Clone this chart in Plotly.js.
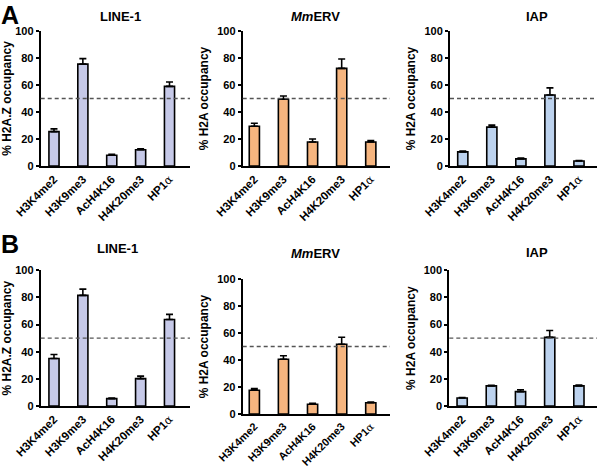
<!DOCTYPE html>
<html>
<head>
<meta charset="utf-8">
<script src="https://cdn.plot.ly/plotly-3.0.1.min.js"></script>
<style>html,body{margin:0;padding:0;background:#fff;}#chart{width:600px;height:468px;}</style>
</head>
<body>
<div id="chart"></div>
<script>
// ---- data ----
const categories = ['H3K4me2', 'H3K9me3', 'AcH4K16', 'H4K20me3', 'HP1α'];
const elements = ['LINE-1', 'MmERV', 'IAP'];
const yTitles = ['% H2A.Z occupancy', '% H2A occupancy', '% H2A occupancy'];
const panelLetters = ['A', 'B'];
const yTicks = [0, 20, 40, 60, 80, 100];
const threshold = 50;

const A_LINE1 = [25.5, 75.5, 8.0, 12.0, 59.0];
const A_LINE1_err = [2.0, 4.0, 0.7, 0.8, 3.2];
const A_MmERV = [29.5, 49.5, 17.8, 72.3, 17.8];
const A_MmERV_err = [2.2, 2.4, 2.2, 7.0, 1.0];
const A_IAP = [10.5, 28.8, 5.3, 52.6, 3.7];
const A_IAP_err = [0.6, 1.5, 0.5, 5.3, 0.4];

const B_LINE1 = [35.0, 81.5, 5.4, 20.2, 63.7];
const B_LINE1_err = [3.0, 4.6, 0.5, 1.8, 3.8];
const B_MmERV = [17.6, 40.6, 7.2, 51.7, 8.3];
const B_MmERV_err = [1.2, 2.6, 0.8, 5.1, 0.5];
const B_IAP = [5.9, 14.8, 10.6, 50.6, 14.8];
const B_IAP_err = [0.3, 0.5, 1.4, 5.0, 0.6];

// ---- layout geometry (pixels) ----
const W = 600, H = 468;
const colors = ['#c6c9e8', '#f6b57f', '#bcd2ee'];
const FONT = 'Liberation Sans, Arial, Helvetica, sans-serif';
const panels = [
  {vals: A_LINE1, err: A_LINE1_err, el: 0, x0: 40.7, x1: 190, y0: 31, y1: 166, r: [-0.46, 4.71], ty: 17, tx: 120, fs: 11.5},
  {vals: A_MmERV, err: A_MmERV_err, el: 1, x0: 242.7, x1: 390, y0: 31, y1: 166, r: [-0.40, 4.66], ty: 17, tx: 315, fs: 11.5},
  {vals: A_IAP, err: A_IAP_err, el: 2, x0: 450, x1: 597, y0: 31, y1: 166, r: [-0.44, 4.62], ty: 17, tx: 537, fs: 11.5},
  {vals: B_LINE1, err: B_LINE1_err, el: 0, x0: 40.7, x1: 190, y0: 270.3, y1: 406, r: [-0.46, 4.71], ty: 248, tx: 117, fs: 11.5},
  {vals: B_MmERV, err: B_MmERV_err, el: 1, x0: 242.7, x1: 390, y0: 279, y1: 414, r: [-0.40, 4.66], ty: 254, tx: 315, fs: 10.8},
  {vals: B_IAP, err: B_IAP_err, el: 2, x0: 449.3, x1: 597, y0: 270.3, y1: 406, r: [-0.44, 4.62], ty: 253, tx: 537, fs: 11.5}
];

function tickLabel(c) {
  const parts = c.split('α');
  if (parts.length === 1) return '<b>' + c + '</b>';
  return '<b>' + parts[0] + '</b><span style="font-family:DejaVu Serif,serif">α</span>' + (parts[1] ? '<b>' + parts[1] + '</b>' : '');
}
function titleText(t) {
  return t.replace(/^Mm/, '<i>Mm</i>');
}

const data = [];
const layout = {
  width: W, height: H,
  margin: {l: 0, r: 0, t: 0, b: 0},
  paper_bgcolor: '#fff', plot_bgcolor: 'rgba(0,0,0,0)',
  showlegend: false,
  font: {family: FONT, color: '#000'},
  shapes: [], annotations: []
};

panels.forEach((p, i) => {
  const n = i === 0 ? '' : String(i + 1);
  data.push({
    type: 'bar',
    x: categories, y: p.vals,
    xaxis: 'x' + n, yaxis: 'y' + n,
    width: 0.35,
    marker: {color: colors[p.el], line: {color: '#000', width: 1.6}},
    error_y: {type: 'data', symmetric: false, array: p.err, arrayminus: p.vals.map(() => 0),
              color: '#000', thickness: 1.6, width: 3.5},
    hoverinfo: 'x+y'
  });
  layout['xaxis' + n] = {
    domain: [p.x0 / W, p.x1 / W],
    anchor: 'y' + n,
    type: 'category',
    range: p.r,
    tickvals: categories,
    ticktext: categories.map(tickLabel),
    tickangle: -45,
    ticks: '',
    showgrid: false, zeroline: false,
    showline: true, linecolor: '#000', linewidth: 2,
    tickfont: {family: FONT, size: p.fs, color: '#000'},
    fixedrange: true
  };
  layout['yaxis' + n] = {
    domain: [1 - p.y1 / H, 1 - p.y0 / H],
    anchor: 'x' + n,
    range: [0, 100],
    tickvals: yTicks,
    ticktext: yTicks.map(v => '<b>' + v + '</b>'),
    ticks: 'outside', ticklen: 3, tickwidth: 2, tickcolor: '#000',
    showgrid: false, zeroline: false,
    showline: true, linecolor: '#000', linewidth: 2,
    tickfont: {family: FONT, size: 11, color: '#000'},
    title: {text: '<b>' + yTitles[p.el] + '</b>', font: {family: FONT, size: 12, color: '#000'}, standoff: 6},
    fixedrange: true
  };
  layout.shapes.push({
    type: 'line', xref: 'x' + n + ' domain', yref: 'y' + n,
    x0: 0, x1: 1, y0: threshold, y1: threshold,
    line: {color: '#555', width: 1.3, dash: '4px,3px'}
  });
  layout.annotations.push({
    xref: 'paper', yref: 'paper',
    x: p.tx / W, y: 1 - p.ty / H,
    xanchor: 'center', yanchor: 'middle', showarrow: false,
    text: '<b>' + titleText(elements[p.el]) + '</b>',
    font: {family: FONT, size: 13, color: '#000'}
  });
});

panelLetters.forEach((L, k) => {
  layout.annotations.push({
    xref: 'paper', yref: 'paper',
    x: 0, y: 1 - (k === 0 ? 0 : 229) / H,
    xanchor: 'left', yanchor: 'top', showarrow: false,
    borderpad: 0,
    text: '<b>' + L + '</b>',
    font: {family: FONT, size: 25, color: '#000'}
  });
});

Plotly.newPlot('chart', data, layout, {displayModeBar: false, staticPlot: true});
</script>
</body>
</html>
